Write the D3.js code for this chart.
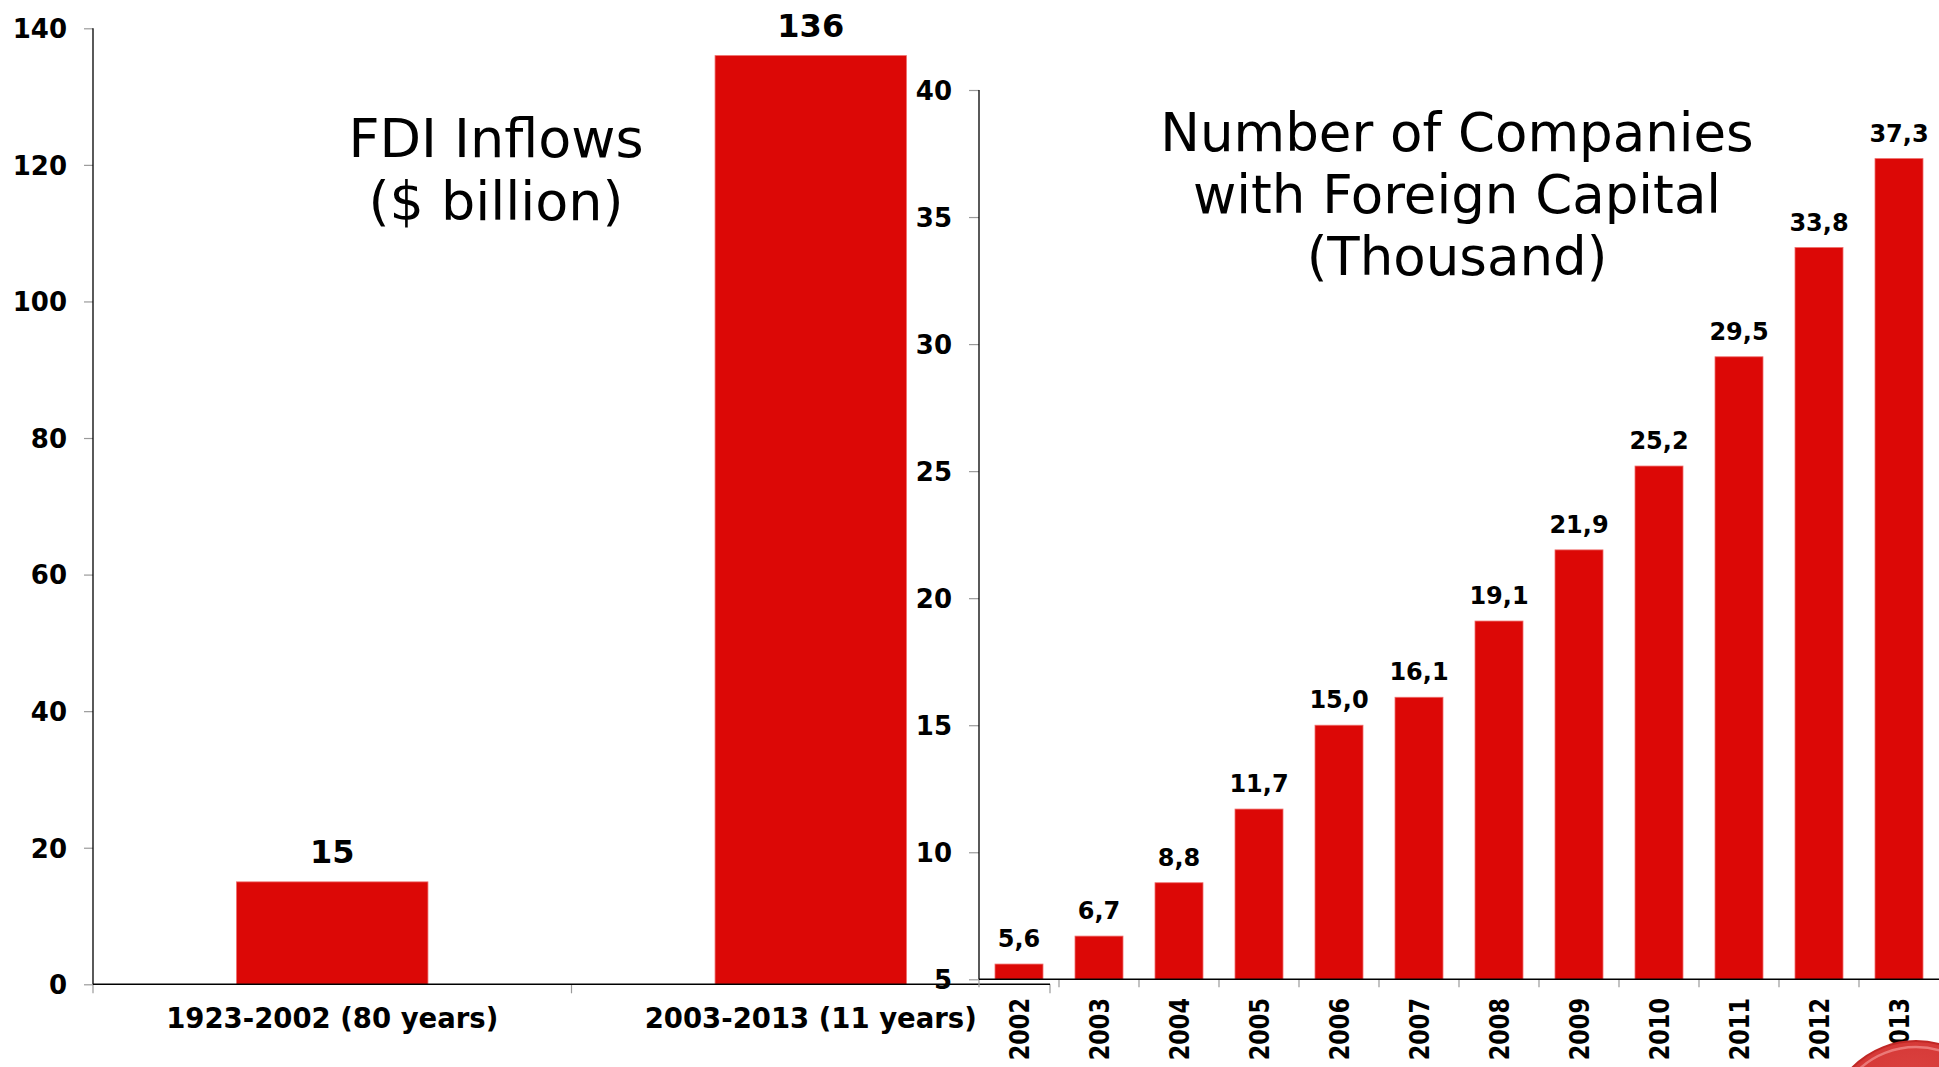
<!DOCTYPE html>
<html>
<head>
<meta charset="utf-8">
<script src="https://cdn.jsdelivr.net/npm/d3@7"></script>
<style>
  html, body { margin: 0; padding: 0; background: #fff; overflow: hidden; }
  svg { display: block; }
</style>
</head>
<body>
<svg id="chart" width="1939" height="1067"></svg>
<script>
// FDI inflows by period ($ billion)
const fdiPeriods = ["1923-2002 (80 years)", "2003-2013 (11 years)"];
const fdiValues = [15, 136];
const fdiTicks = [0, 20, 40, 60, 80, 100, 120, 140];

// Companies with foreign capital (thousand)
const companyYears = ["2002", "2003", "2004", "2005", "2006", "2007", "2008", "2009", "2010", "2011", "2012", "2013"];
const companyValues = [5.6, 6.7, 8.8, 11.7, 15.0, 16.1, 19.1, 21.9, 25.2, 29.5, 33.8, 37.3];
const companyTicks = [5, 10, 15, 20, 25, 30, 35, 40];

const RED = "#dc0806";
const RED_EDGE = "#ef6d6b";
const TICK_GREY = "#9a9a9a";
const FONT = "'DejaVu Sans', Verdana, sans-serif";

const svg = d3.select("#chart");
const fmtComma = d => d.toFixed(1).replace(".", ",");

// ---------- Left panel: FDI inflows ----------
const L = { x0: 93, x1: 1050, yTop: 28.3, yBase: 984.3 };
const xL = d3.scaleBand().domain(fdiPeriods).range([L.x0, L.x1])
  .paddingInner(0.6).paddingOuter(0.3);
const yL = d3.scaleLinear().domain([0, 140]).range([L.yBase, L.yTop]);

const gL = svg.append("g");

// y axis
const axL = gL.append("g").attr("transform", `translate(${L.x0},0)`)
  .call(d3.axisLeft(yL).tickValues(fdiTicks).tickSize(9).tickPadding(17).tickFormat(d3.format("d")));
axL.select(".domain").remove();
axL.selectAll(".tick line").attr("stroke", TICK_GREY).attr("stroke-width", 1.2);
axL.selectAll(".tick text")
  .attr("font-family", FONT).attr("font-weight", "bold").attr("font-size", 26)
  .attr("fill", "#000").attr("dy", "0.36em");
gL.append("line").attr("x1", L.x0).attr("x2", L.x0).attr("y1", L.yTop).attr("y2", L.yBase)
  .attr("stroke", "#000").attr("stroke-width", 1.3);

// bars
gL.selectAll("rect.bar").data(fdiValues).join("rect").attr("class", "bar")
  .attr("x", (d, i) => xL(fdiPeriods[i]))
  .attr("width", xL.bandwidth())
  .attr("y", d => yL(d))
  .attr("height", d => yL(0) - yL(d))
  .attr("fill", RED).attr("stroke", RED_EDGE).attr("stroke-width", 0.8);

// value labels
gL.selectAll("text.val").data(fdiValues).join("text").attr("class", "val")
  .attr("x", (d, i) => xL(fdiPeriods[i]) + xL.bandwidth() / 2)
  .attr("y", d => yL(d) - 19)
  .attr("text-anchor", "middle")
  .attr("font-family", FONT).attr("font-weight", "bold").attr("font-size", 32)
  .attr("fill", "#000")
  .text(d => d);

// category axis
const cxL = gL.append("g").attr("transform", `translate(0,${L.yBase})`);
const bordersL = [L.x0, ...fdiPeriods.map(p => xL(p) + xL.bandwidth() + xL.step() * 0.3)];
cxL.selectAll("line.tk").data(bordersL).join("line").attr("class", "tk")
  .attr("x1", d => d).attr("x2", d => d).attr("y1", 0).attr("y2", 9)
  .attr("stroke", TICK_GREY).attr("stroke-width", 1.2);
cxL.append("line").attr("x1", L.x0).attr("x2", L.x1).attr("y1", 0).attr("y2", 0)
  .attr("stroke", "#000").attr("stroke-width", 1.6);
cxL.selectAll("text.cat").data(fdiPeriods).join("text").attr("class", "cat")
  .attr("x", d => xL(d) + xL.bandwidth() / 2)
  .attr("y", 44)
  .attr("text-anchor", "middle")
  .attr("font-family", FONT).attr("font-weight", "bold").attr("font-size", 27.5)
  .attr("fill", "#000")
  .text(d => d);

// title
const tL = gL.append("text").attr("text-anchor", "middle")
  .attr("font-family", FONT).attr("font-size", 54).attr("fill", "#000");
tL.append("tspan").attr("x", 496).attr("y", 157).text("FDI Inflows");
tL.append("tspan").attr("x", 496).attr("y", 220).text("($ billion)");

// ---------- Right panel: companies with foreign capital ----------
const R = { x0: 979, x1: 1939, yTop: 90, yBase: 979.3 };
const xR = d3.scaleBand().domain(companyYears).range([R.x0, R.x1])
  .paddingInner(0.4).paddingOuter(0.2);
const yR = d3.scaleLinear().domain([5, 40]).range([R.yBase, R.yTop]);

const gR = svg.append("g");

const axR = gR.append("g").attr("transform", `translate(${R.x0},0)`)
  .call(d3.axisLeft(yR).tickValues(companyTicks).tickSize(10).tickPadding(17).tickFormat(d3.format("d")));
axR.select(".domain").remove();
axR.selectAll(".tick line").attr("stroke", TICK_GREY).attr("stroke-width", 1.2);
axR.selectAll(".tick text")
  .attr("font-family", FONT).attr("font-weight", "bold").attr("font-size", 26)
  .attr("fill", "#000").attr("dy", "0.36em");
gR.append("line").attr("x1", R.x0).attr("x2", R.x0).attr("y1", R.yTop).attr("y2", R.yBase)
  .attr("stroke", "#000").attr("stroke-width", 1.3);

gR.selectAll("rect.bar").data(companyValues).join("rect").attr("class", "bar")
  .attr("x", (d, i) => xR(companyYears[i]))
  .attr("width", xR.bandwidth())
  .attr("y", d => yR(d))
  .attr("height", d => yR(5) - yR(d))
  .attr("fill", RED).attr("stroke", RED_EDGE).attr("stroke-width", 0.8);

gR.selectAll("text.val").data(companyValues).join("text").attr("class", "val")
  .attr("x", (d, i) => xR(companyYears[i]) + xR.bandwidth() / 2)
  .attr("y", d => yR(d) - 17)
  .attr("text-anchor", "middle")
  .attr("font-family", FONT).attr("font-weight", "bold").attr("font-size", 24)
  .attr("fill", "#000")
  .text(fmtComma);

// category axis
const cxR = gR.append("g").attr("transform", `translate(0,${R.yBase})`);
const bordersR = companyYears.map(y => xR(y) - xR.step() * 0.2);
cxR.selectAll("line.tk").data(bordersR).join("line").attr("class", "tk")
  .attr("x1", d => d).attr("x2", d => d).attr("y1", 0).attr("y2", 8)
  .attr("stroke", TICK_GREY).attr("stroke-width", 1.2);
cxR.append("line").attr("x1", R.x0).attr("x2", R.x1).attr("y1", 0).attr("y2", 0)
  .attr("stroke", "#000").attr("stroke-width", 1.6);
// year labels read bottom-to-top, slightly condensed along the reading direction
cxR.selectAll("text.cat").data(companyYears).join("text").attr("class", "cat")
  .attr("transform", d => `translate(${xR(d) + xR.bandwidth() / 2},81) rotate(-90) scale(0.83,1)`)
  .attr("text-anchor", "start")
  .attr("dy", "0.36em")
  .attr("font-family", FONT).attr("font-weight", "bold").attr("font-size", 27)
  .attr("fill", "#000")
  .text(d => d);

// title
const tR = gR.append("text").attr("text-anchor", "middle")
  .attr("font-family", FONT).attr("font-size", 53).attr("fill", "#000");
tR.append("tspan").attr("x", 1457).attr("y", 151).text("Number of Companies");
tR.append("tspan").attr("x", 1457).attr("y", 213).text("with Foreign Capital");
tR.append("tspan").attr("x", 1457).attr("y", 275).text("(Thousand)");

// ---------- Corner button ornament ----------
const defs = svg.append("defs");
const grad = defs.append("radialGradient").attr("id", "btn")
  .attr("cx", "50%").attr("cy", "45%").attr("r", "55%");
grad.append("stop").attr("offset", "0%").attr("stop-color", "#e14c4a");
grad.append("stop").attr("offset", "80%").attr("stop-color", "#d63a38");
grad.append("stop").attr("offset", "100%").attr("stop-color", "#b51715");
const btn = svg.append("g");
btn.append("circle").attr("cx", 1916).attr("cy", 1131).attr("r", 90)
  .attr("fill", "url(#btn)").attr("stroke", "#c02826").attr("stroke-width", 2);
btn.append("circle").attr("cx", 1916).attr("cy", 1131).attr("r", 84)
  .attr("fill", "none").attr("stroke", "#f08a88").attr("stroke-width", 2.5).attr("opacity", 0.8);
</script>
</body>
</html>
